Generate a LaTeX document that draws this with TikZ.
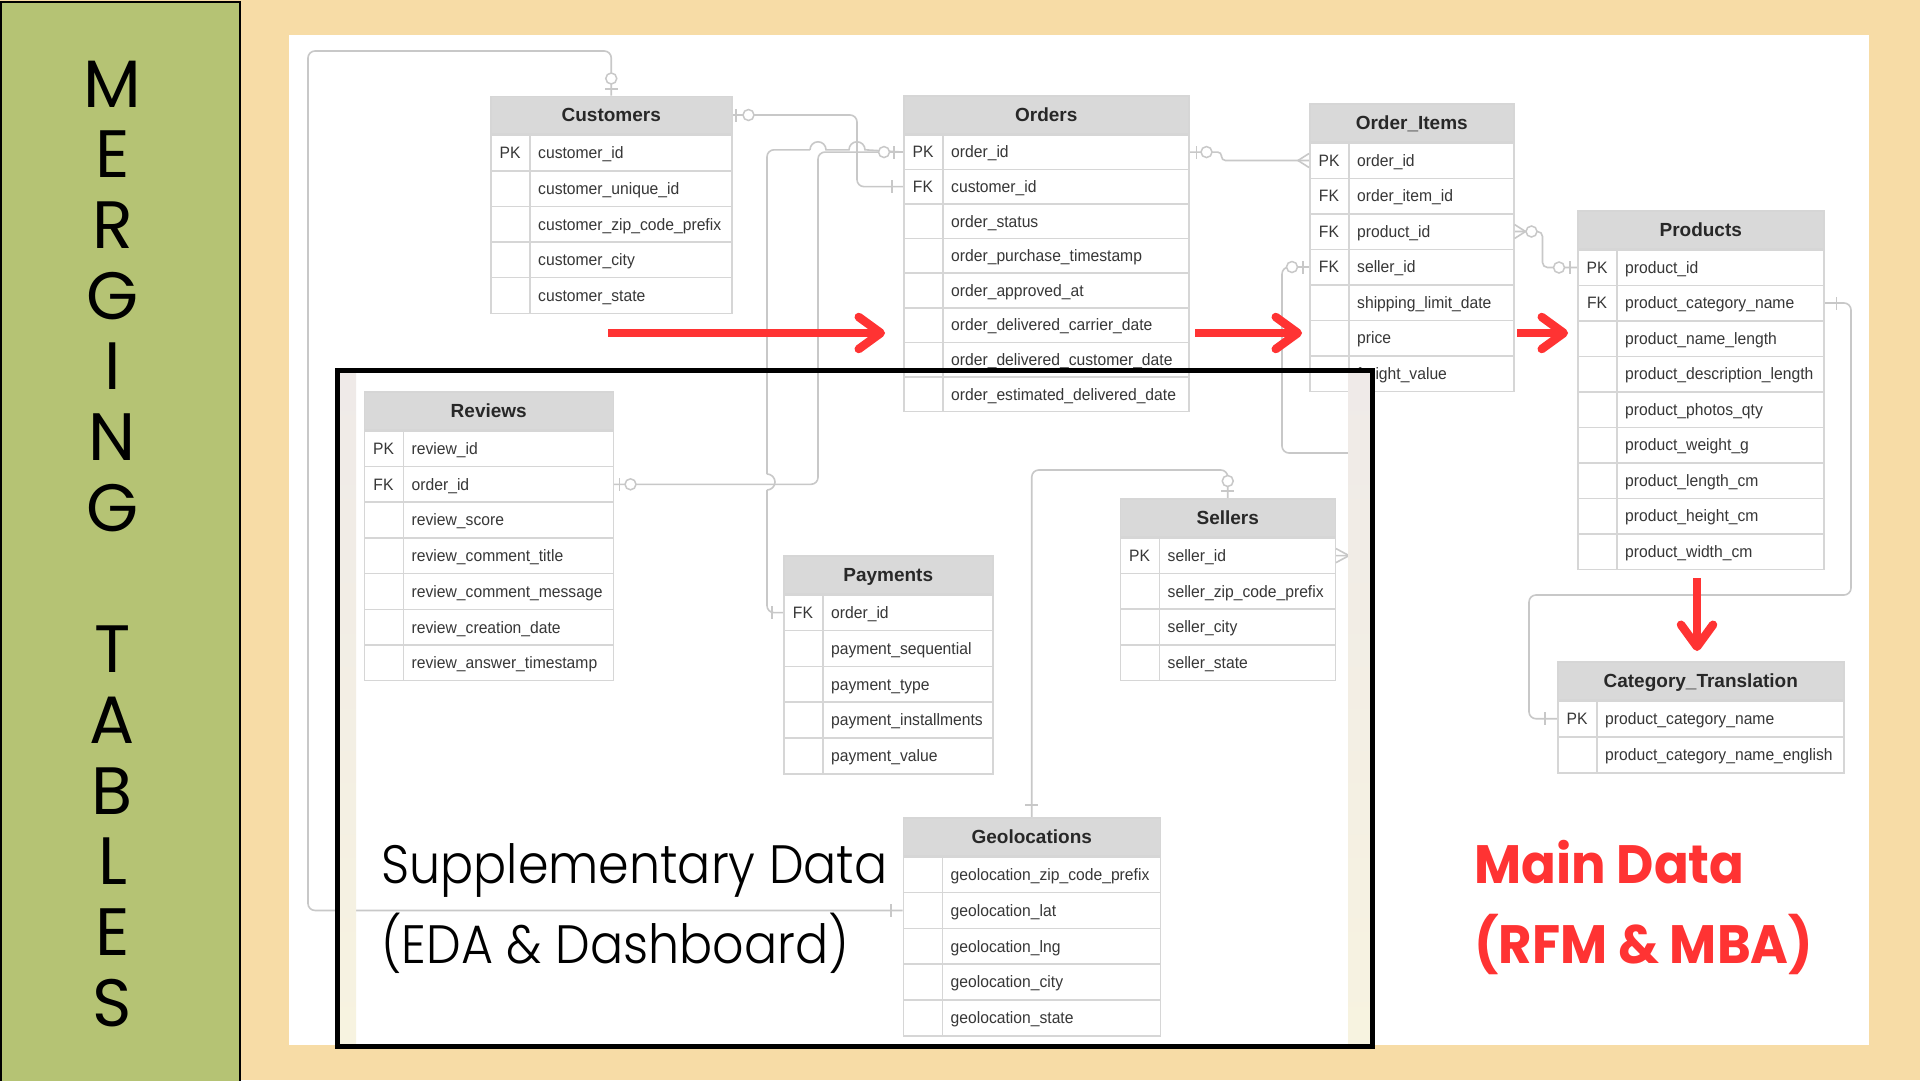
\documentclass[tikz,border=0pt]{standalone}
\usepackage{fontspec}
\setmainfont{Liberation Sans}
\newfontfamily\fieldfont{Liberation Sans}[FakeStretch=0.95]
\newfontfamily\titlefont{Poppins}
\newfontfamily\redfont{Poppins}[FakeStretch=0.95]
\newfontfamily\lightfont{Poppins}[UprightFont=* Light, FakeStretch=0.91]
\usetikzlibrary{calc,arrows.meta}
\pgfdeclarelayer{bg}
\pgfdeclarelayer{links}
\pgfsetlayers{bg,links,main}

\definecolor{peach}{RGB}{247,220,166}
\definecolor{olive}{RGB}{181,195,116}
\definecolor{hdrgray}{RGB}{217,217,217}
\definecolor{gridgray}{RGB}{214,214,214}
\definecolor{linkgray}{RGB}{200,200,200}
\definecolor{headtxt}{RGB}{40,40,40}
\definecolor{fieldtxt}{RGB}{55,55,55}
\definecolor{alertred}{RGB}{255,51,51}
\definecolor{stripTop}{RGB}{239,234,232}
\definecolor{stripBot}{RGB}{247,243,224}

% #1 name, #2 position, #3 width, #4 row height, #5 title, #6 key/field rows
\newcommand{\erdtable}[6]{%
  \node[erhead, minimum width=#3, anchor=north west] (#1) at (#2) {#5};
  \foreach \k/\f [count=\i] in {#6} {
    \node[errow, minimum width=#3, minimum height=#4, anchor=north west]
      (#1-\i) at ($(#1.south west)+(0,{(\i-1)*#4})$) {};
    \draw[gridline] ([xshift=40pt]#1-\i.north west) -- ([xshift=40pt]#1-\i.south west);
    \node[erkey] (#1-k\i) at ([xshift=20pt]#1-\i.west) {\k};
    \node[erfield] (#1-f\i) at ([xshift=48pt]#1-\i.west) {\f};
  }
}

\begin{document}
\begin{tikzpicture}[x=1pt,y=-1pt,
    erhead/.style={draw=gridgray, line width=1.5pt, fill=hdrgray, inner sep=0pt,
      minimum height=37.5pt, text=headtxt, font=\bfseries\fontsize{19}{22}\selectfont,
      text height=13.7pt, text depth=0pt},
    errow/.style={draw=gridgray, line width=1.5pt, fill=white, inner sep=0pt},
    erkey/.style={inner sep=0pt, text=fieldtxt, font=\fieldfont\fontsize{16.5}{18}\selectfont,
      text height=11.8pt, text depth=0pt},
    erfield/.style={erkey, anchor=west},
    gridline/.style={draw=gridgray, line width=1.5pt},
    erlink/.style={draw=linkgray, line width=1.6pt, rounded corners=7pt},
    erzero/.style={circle, draw=linkgray, line width=1.5pt, fill=white, minimum size=11pt, inner sep=0pt},
    erbarv/.style={fill=linkgray, minimum width=1.6pt, minimum height=13pt, inner sep=0pt},
    erbarh/.style={fill=linkgray, minimum width=13pt, minimum height=1.6pt, inner sep=0pt},
    alertarrow/.style={draw=alertred, line width=8.5pt, -{Straight Barb[length=22pt,width=32pt,round]}},
    vletter/.style={anchor=base, inner sep=0pt, font=\titlefont\fontsize{67}{70}\selectfont},
    suptext/.style={anchor=base west, inner sep=0pt, font=\lightfont\fontsize{54}{60}\selectfont},
    maintext/.style={anchor=base west, inner sep=0pt, text=alertred,
      font=\redfont\bfseries\fontsize{54}{60}\selectfont}]
  \useasboundingbox (0,0) rectangle (1920,1080);
  \begin{pgfonlayer}{bg}
    \fill[peach] (0,0) rectangle (1920,1080);
    \fill[white] (289,35) rectangle (1869,1045);
    \draw[black, line width=2pt, fill=olive] (1,2) rectangle (240,1090);
  \end{pgfonlayer}
  \foreach \ch [count=\i] in {M,E,R,G,I,N,G,{},T,A,B,L,E,S}
    \node[vletter] (mt-\i) at (112.5,{107+(\i-1)*70.7}) {\ch};

  \erdtable{cust}{490,95.5}{241}{35.6}{Customers}{PK/customer\_id, /customer\_unique\_id,
    /customer\_zip\_code\_prefix, /customer\_city, /customer\_state}
  \erdtable{ord}{903,95}{285}{34.6}{Orders}{PK/order\_id, FK/customer\_id, /order\_status,
    /order\_purchase\_timestamp, /order\_approved\_at, /order\_delivered\_carrier\_date,
    /order\_delivered\_customer\_date, /order\_estimated\_delivered\_date}
  \erdtable{item}{1309,103}{204}{35.5}{Order\_Items}{PK/order\_id, FK/order\_item\_id,
    FK/product\_id, FK/seller\_id, /shipping\_limit\_date, /price, /freight\_value}
  \erdtable{prod}{1577,210}{246}{35.5}{Products}{PK/product\_id, FK/product\_category\_name,
    /product\_name\_length, /product\_description\_length, /product\_photos\_qty,
    /product\_weight\_g, /product\_length\_cm, /product\_height\_cm, /product\_width\_cm}
  \erdtable{cat}{1557,661}{286}{36}{Category\_Translation}{PK/product\_category\_name,
    /product\_category\_name\_english}
  \erdtable{rev}{363.5,391}{249}{35.7}{Reviews}{PK/review\_id, FK/order\_id, /review\_score,
    /review\_comment\_title, /review\_comment\_message, /review\_creation\_date,
    /review\_answer\_timestamp}
  \erdtable{pay}{783,555}{209}{35.8}{Payments}{FK/order\_id, /payment\_sequential,
    /payment\_type, /payment\_installments, /payment\_value}
  \erdtable{sell}{1119.5,498}{215}{35.7}{Sellers}{PK/seller\_id, /seller\_zip\_code\_prefix,
    /seller\_city, /seller\_state}
  \erdtable{geo}{902.5,817}{257}{35.8}{Geolocations}{/geolocation\_zip\_code\_prefix,
    /geolocation\_lat, /geolocation\_lng, /geolocation\_city, /geolocation\_state}

  % connectors, kept under the tables
  \begin{pgfonlayer}{links}
    \coordinate (loopTL) at (308,51);
    \draw[erlink] (cust.north) |- (loopTL) |- (geo-2.west);
    \draw[erlink] (cust.east) -| ([xshift=-46pt]ord-2.west) -- (ord-2.west);
    \draw[erlink] (rev-2.east) -| ([xshift=-85pt]ord-1.west) -- (ord-1.west);
    \coordinate (hopLow) at (767,490);
    \coordinate (hopHigh) at (767,474);
    \coordinate (hopA) at (810,149.8);
    \draw[erlink] (pay-1.west) -| (hopLow);
    \draw[erlink, sharp corners] (hopLow) arc[start angle=-90, end angle=90, radius=8pt];
    \draw[erlink] (hopHigh) |- (hopA);
    \draw[erlink, sharp corners] (hopA) arc[start angle=180, end angle=0, radius=8pt]
      -- (849,149.8) arc[start angle=180, end angle=0, radius=8pt] -- (ord-1.west);
    \draw[erlink, rounded corners=4pt] (ord-1.east) -- ++(32,0) |- (item-1.west);
    \draw[erlink, rounded corners=5pt] (item-3.east) -- ++(28,0) |- (prod-1.west);
    \draw[erlink] (item-4.west) -| (1282,453) -| ([xshift=24pt]sell-1.east) -- (sell-1.east);
    \draw[erlink] (geo.north) |- ([yshift=28pt]sell.north) -- (sell.north);
    \draw[erlink] (prod-2.east) -| (1851,595) -| ([xshift=-28pt]cat-1.west) -- (cat-1.west);
  \end{pgfonlayer}

  % cardinality marks
  \node[erbarh] (b-cust-top) at ([yshift=6.5pt]cust.north) {};
  \node[erzero] (z-cust-top) at ([yshift=17pt]cust.north) {};
  \node[erbarv] (b-geo-lat) at ([xshift=-11.5pt]geo-2.west) {};
  \node[erbarv] (b-cust-east) at ([xshift=3.5pt]cust.east) {};
  \node[erzero] (z-cust-east) at ([xshift=16pt]cust.east) {};
  \node[erbarv] (b-ord-cust) at ([xshift=-11pt]ord-2.west) {};
  \node[erbarv] (b-rev-ord) at ([xshift=5.5pt]rev-2.east) {};
  \node[erzero] (z-rev-ord) at ([xshift=16.5pt]rev-2.east) {};
  \node[erbarv] (b-pay-ord) at ([xshift=-11pt]pay-1.west) {};
  \node[erzero] (z-ord-west) at ([xshift=-19pt]ord-1.west) {};
  \node[erbarv] (b-ord-west) at ([xshift=-9pt]ord-1.west) {};
  \node[erbarv] (b-ord-east) at ([xshift=7pt]ord-1.east) {};
  \node[erzero] (z-ord-east) at ([xshift=17pt]ord-1.east) {};
  \draw[erlink, sharp corners] ([yshift=7pt]item-1.west) -- ([xshift=-11pt]item-1.west) -- ([yshift=-7pt]item-1.west);
  \draw[erlink, sharp corners] ([yshift=7pt]item-3.east) -- ([xshift=11pt]item-3.east) -- ([yshift=-7pt]item-3.east);
  \node[erzero] (z-item-prod) at ([xshift=17pt]item-3.east) {};
  \node[erzero] (z-prod-west) at ([xshift=-18pt]prod-1.west) {};
  \node[erbarv] (b-prod-west) at ([xshift=-7pt]prod-1.west) {};
  \node[erbarv] (b-item-sell) at ([xshift=-6pt]item-4.west) {};
  \node[erzero] (z-item-sell) at ([xshift=-17pt]item-4.west) {};
  \draw[erlink, sharp corners] ([yshift=7pt]sell-1.east) -- ([xshift=13pt]sell-1.east) -- ([yshift=-7pt]sell-1.east);
  \node[erbarh] (b-geo-top) at ([yshift=12pt]geo.north) {};
  \node[erzero] (z-sell-top) at ([yshift=17pt]sell.north) {};
  \node[erbarh] (b-sell-top) at ([yshift=7pt]sell.north) {};
  \node[erbarv] (b-prod-cat) at ([xshift=12pt]prod-2.east) {};
  \node[erbarv] (b-cat-west) at ([xshift=-12pt]cat-1.west) {};

  % supplementary frame
  \shade[top color=stripTop, bottom color=stripBot] (340,373) rectangle (356,1043.5);
  \shade[top color=stripTop, bottom color=stripBot] (1348,373) rectangle (1370,1043.5);
  \draw[line width=5pt] (337.5,370.5) rectangle (1372.5,1046);
  \node[suptext] (supp1) at (381,883) {Supplementary Data};
  \node[suptext] (supp2) at (381,963) {(EDA \& Dashboard)};
  \node[maintext] (main1) at (1474,883) {Main Data};
  \node[maintext] (main2) at (1474,963) {(RFM \& MBA)};

  % red arrows
  \coordinate (a1s) at (608,333);  \coordinate (a1e) at (885,333);
  \coordinate (a2s) at (1195,333); \coordinate (a2e) at (1302,333);
  \coordinate (a3s) at (1517,333); \coordinate (a3e) at (1568,333);
  \coordinate (a4s) at (1697,578); \coordinate (a4e) at (1697,651);
  \draw[alertarrow] (a1s) -- (a1e);
  \draw[alertarrow] (a2s) -- (a2e);
  \draw[alertarrow] (a3s) -- (a3e);
  \draw[alertarrow] (a4s) -- (a4e);
\end{tikzpicture}
\end{document}
